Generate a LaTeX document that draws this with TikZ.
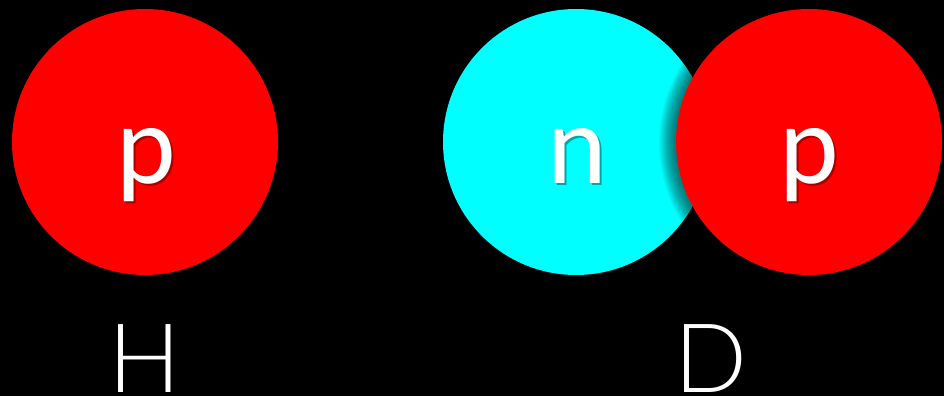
\documentclass[tikz,border=0pt]{standalone}
\usepackage{fontspec}
\setmainfont{Carlito}
\newfontfamily\thinfont{Lato Light}
\definecolor{protonred}{RGB}{255,0,0}
\definecolor{neutroncyan}{RGB}{0,255,255}
\tikzset{
particle/.style={circle,minimum size=199.5pt,inner sep=0pt},
letter/.style={text=white,anchor=base,inner sep=0pt,font=\fontsize{85}{90}\selectfont},
lettershadow/.style={text=black,text opacity=0.35,anchor=base,inner sep=0pt,font=\fontsize{85}{90}\selectfont},
element/.style={text=white,anchor=base,inner sep=0pt,font=\thinfont\fontsize{72}{80}\selectfont}
}
\begin{document}
\begin{tikzpicture}[x=0.75pt,y=0.75pt,yscale=-1,xscale=1]
%uncomment if require: \path (0,396); %set diagram left start at 0, and has height of 396
\fill[black] (0,0) rectangle (944,396);
\useasboundingbox (0,0) rectangle (944,396);

%Shape: Circle [id:hproton] 
\node [particle,fill=protonred] (hp) at (145,142) {};
%Shape: Circle [id:dneutron] 
\node [particle,fill=neutroncyan] (dn) at (576,142) {};
%Shadow of the proton on the neutron
\begin{scope}
\clip (576,142) circle (133);
\foreach \r in {1,...,16}
  \fill [black,opacity=0.04] (808,143) circle (133+\r);
\end{scope}
%Shape: Circle [id:dproton] 
\node [particle,fill=protonred] (dp) at (809,142) {};

% Text Node
\node [lettershadow] (hpshadow) at (148,185) {p};
\node [letter] (hptext) at (146,183) {p};
% Text Node
\node [lettershadow] (dnshadow) at (579,185) {n};
\node [letter] (dntext) at (577,183) {n};
% Text Node
\node [lettershadow] (dpshadow) at (811,185) {p};
\node [letter] (dptext) at (809,183) {p};

% Text Node
\node [element] (hlabel) at (145,392) {H};
% Text Node
\node [element] (dlabel) at (711,392) {D};
\end{tikzpicture}
\end{document}
